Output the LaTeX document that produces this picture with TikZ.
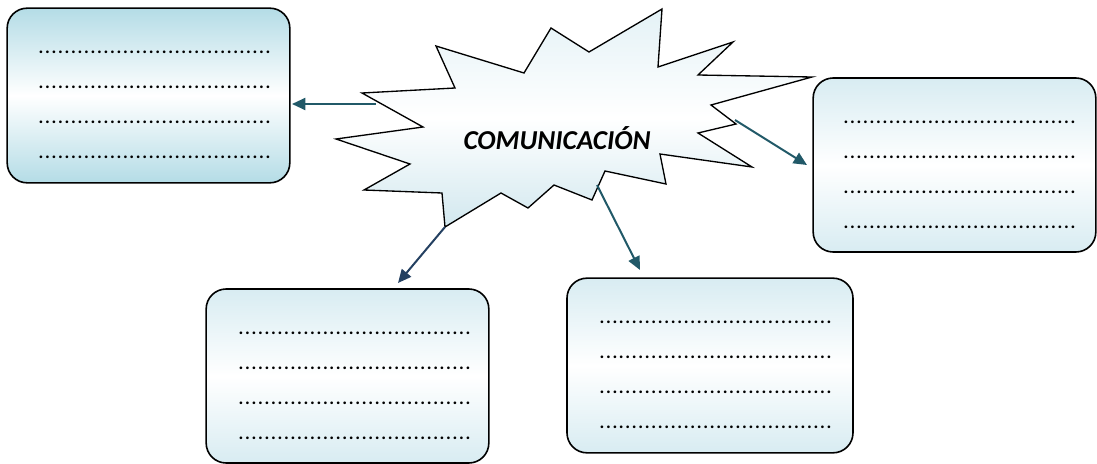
\documentclass[tikz,border=0pt]{standalone}
\usepackage{fontspec}
\setmainfont{Carlito}
\usetikzlibrary{arrows.meta}
\definecolor{teal1}{HTML}{215968}
\definecolor{navy1}{HTML}{244061}
\definecolor{boxdeep}{HTML}{B4DCE6}
\definecolor{boxlite}{HTML}{D8ECF2}
\definecolor{burstA}{HTML}{E4F2F6}
\definecolor{burstB}{HTML}{D2E8EF}
\newcommand\dotrow{\hbox to 180pt{\cleaders\hbox to 4.865pt{\hss.\hss}\hfill}}
\tikzset{
  card/.style={draw=black, line width=1.2pt, rounded corners=15pt, inner sep=0pt,
     minimum width=212pt, minimum height=131pt, top color=boxlite, bottom color=boxlite, middle color=white},
  deepcard/.style={card, top color=boxdeep, bottom color=boxdeep, middle color=white},
  dotline/.style={anchor=base west, inner sep=0pt, font=\fontsize{13.5}{14}\selectfont\bfseries},
  link/.style={line width=1.5pt, draw=teal1, -{Triangle[length=10pt,width=9pt]}},
  darklink/.style={link, draw=navy1},
  title/.style={font=\fontsize{20.5}{22}\selectfont\bfseries\itshape, inner sep=0pt}
}
\begin{document}
\begin{tikzpicture}[x=0.75pt,y=-0.75pt]
\useasboundingbox (0,0) rectangle (1097,464);
% boxes
\node[deepcard] (tl) at (148.5,95.5) {};
\node[card, minimum height=130.5pt] (r) at (954.5,165) {};
\node[card, minimum height=130.5pt] (bl) at (347.5,376) {};
\node[card, minimum width=214.5pt] (br) at (710,365.5) {};
\foreach \b/\dx in {tl/28, r/27, bl/29, br/29}{
  \foreach \dy [count=\i] in {46,81,116.5,151.5}{
    \node[dotline] (\b-\i) at ([shift={(\dx,\dy)}]\b.north west) {\dotrow};
  }
}
% burst
\path[draw=black, line width=1pt, top color=burstA, bottom color=burstB, middle color=white, line join=miter]
 (436,46) -- (524,73) -- (551,28) -- (589,52) -- (662,9) -- (658,67) -- (733,42) -- (698,75)
 -- (812,77) -- (711,105) -- (736,124) -- (698,133) -- (752,167) -- (660,154) -- (666,184)
 -- (605,171) -- (592,200) -- (554,185) -- (528,208) -- (501,193) -- (445,227) -- (442,193)
 -- (364,190) -- (410,164) -- (336,139) -- (423,127) -- (362,93) -- (455,88) -- cycle;
\node[title] (burst) at (557,138) {COMUNICACIÓN};
% connector ends
\coordinate (s1) at (376,104);
\coordinate (e1) at (292,104);
\coordinate (s2) at (445,227);
\coordinate (e2) at (398,283);
\coordinate (s3) at (597,185);
\coordinate (e3) at (640,270);
\coordinate (s4) at (735,120);
\coordinate (e4) at (807,165);
\draw[link] (s1) -- (e1);
\draw[darklink] (s2) -- (e2);
\draw[link] (s3) -- (e3);
\draw[link] (s4) -- (e4);
\end{tikzpicture}
\end{document}
